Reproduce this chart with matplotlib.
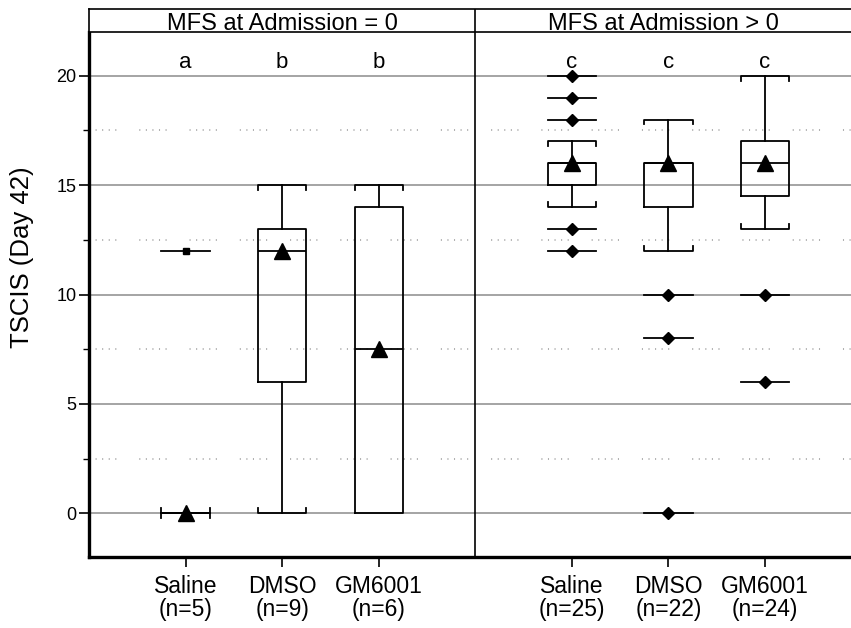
import numpy as np
import matplotlib.pyplot as plt

plt.rcParams['font.family'] = ['Liberation Sans', 'DejaVu Sans']

# group data (left panel: MFS = 0, right panel: MFS > 0)
groups = ['Saline', 'DMSO', 'GM6001', 'Saline', 'DMSO', 'GM6001']
n_values = [5, 9, 6, 25, 22, 24]
q1 = [0, 6, 0, 15, 14, 14.5]
medians = [0, 12, 7.5, 16, 16, 16]
q3 = [0, 13, 14, 16, 16, 17]
whis_lo = [0, 0, 0, 14, 12, 13]
whis_hi = [0, 15, 15, 17, 18, 20]
means = [0, 12, 7.5, 16, 16, 16]
outliers = [[12], [], [], [20, 19, 18, 13, 12], [10, 8, 0], [10, 6]]
letters = ['a', 'b', 'b', 'c', 'c', 'c']
panel_titles = ['MFS at Admission = 0', 'MFS at Admission > 0']

positions = [1, 2, 3, 5, 6, 7]
bw = 0.5
tick_h = 0.22

fig = plt.figure(figsize=(8.51, 6.28), dpi=100)
ax = fig.add_axes([89/851, 1-557/628, 1-89/851, (557-32)/628])
hax = fig.add_axes([89/851, 1-32/628, 1-89/851, (32-9)/628])

# grid lines
for y in [0, 5, 10, 15, 20]:
    ax.axhline(y, color='#8c8c8c', lw=1.1, zorder=0)
dots = (0.7, 3.6, 0.7, 3.6, 0.7, 3.6, 0.7, 3.6, 0.7, 15.0)
for y in [2.5, 7.5, 12.5, 17.5]:
    ax.axhline(y, color='#9a9a9a', lw=1.1, linestyle=(0, dots), zorder=0)

stats = []
for i in range(len(groups)):
    stats.append(dict(med=medians[i], q1=q1[i], q3=q3[i], whislo=whis_lo[i],
                      whishi=whis_hi[i], mean=means[i], fliers=[]))

ax.bxp(stats, positions=positions, widths=bw, showmeans=True, showcaps=False,
       showfliers=False,
       boxprops=dict(color='black', lw=1.3),
       whiskerprops=dict(color='black', lw=1.3),
       medianprops=dict(color='black', lw=1.3),
       meanprops=dict(marker='^', markerfacecolor='black', markeredgecolor='black',
                      markersize=11))

# caps with small end ticks
for i, x in enumerate(positions):
    xl, xr = x - bw/2, x + bw/2
    ax.plot([xl, xl, xr, xr], [whis_hi[i]-tick_h, whis_hi[i], whis_hi[i], whis_hi[i]-tick_h],
            color='black', lw=1.3)
    if whis_lo[i] < q1[i] or whis_lo[i] == whis_hi[i]:
        ax.plot([xl, xl, xr, xr], [whis_lo[i]+tick_h, whis_lo[i], whis_lo[i], whis_lo[i]+tick_h],
                color='black', lw=1.3)
    for o in outliers[i]:
        ax.plot([xl, xr], [o, o], color='black', lw=1.3)
        if i == 0:
            ax.plot(x, o, marker='s', color='black', markersize=5)
        else:
            ax.plot(x, o, marker='D', color='black', markersize=6.5)
    ax.text(x, 20.6, letters[i], ha='center', va='center', fontsize=16)

ax.axvline(4, color='black', lw=1.2)
ax.set_xlim(0, 7.89)
ax.set_ylim(-2, 22)
ax.set_xticks(positions)
ax.set_xticklabels([f'{g}\n(n={n})' for g, n in zip(groups, n_values)],
                   fontsize=16.5, linespacing=1.0)
ax.set_yticks([0, 5, 10, 15, 20])
ax.set_yticks([2.5, 7.5, 12.5, 17.5], minor=True)
ax.tick_params(axis='y', labelsize=13, length=7, width=1.2, pad=2)
ax.tick_params(axis='y', which='minor', length=4, width=1.0)
ax.tick_params(axis='x', length=7, width=1.2, pad=6)
ax.spines['top'].set_visible(False)
ax.spines['right'].set_visible(False)
ax.spines['left'].set_linewidth(2.4)
ax.spines['bottom'].set_linewidth(2.4)
ax.set_ylabel('TSCIS (Day 42)', fontsize=18.5)
ax.yaxis.set_label_coords(-0.072, 0.571)

# header strip
hax.set_xlim(0, 7.89)
hax.set_ylim(0, 1)
hax.set_xticks([])
hax.set_yticks([])
hax.spines['right'].set_visible(False)
for s in ['top', 'bottom', 'left']:
    hax.spines[s].set_linewidth(1.2)
hax.axvline(4, color='black', lw=1.2)
hax.text(2, 0.36, panel_titles[0], ha='center', va='center', fontsize=17)
hax.text(5.95, 0.36, panel_titles[1], ha='center', va='center', fontsize=17)

fig.savefig('out.png', dpi=100)
